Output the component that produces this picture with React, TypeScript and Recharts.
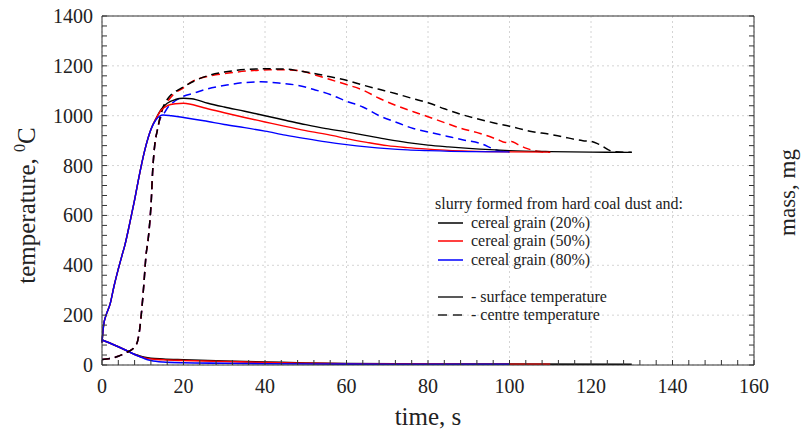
import { LineChart, Line, XAxis, YAxis, CartesianGrid, ReferenceLine } from "recharts";

type Pt = { t: number; v: number };
const pts = (rows: number[][]): Pt[] => rows.map(([t, v]) => ({ t, v }));

// surface temperature, degC
const surface20 = pts([
  [0, 90], [0.4, 160], [1, 200], [2, 245], [3, 320], [4, 385], [5, 445], [5.6, 480],
  [6.8, 568], [8, 662], [9.25, 769], [10.5, 862], [12, 945], [13.3, 990], [14.5, 1025],
  [16, 1050], [18, 1065], [20, 1070], [22, 1068], [26, 1050], [30, 1035], [35, 1018],
  [40, 1000], [45, 982], [50, 964], [55, 948], [60, 935], [65, 920], [70, 905], [75, 892],
  [80, 882], [85, 875], [90, 869], [100, 860], [110, 856], [120, 854], [130, 853],
]);
const surface50 = pts([
  [0, 90], [0.4, 160], [1, 200], [2, 245], [3, 320], [4, 385], [5, 445], [5.6, 480],
  [6.8, 568], [8, 662], [9.25, 769], [10.5, 862], [12, 945], [13.3, 990], [14.5, 1022],
  [16, 1040], [18, 1048], [20, 1050], [25, 1032], [30, 1012], [35, 993], [40, 975],
  [45, 957], [50, 940], [56.7, 920], [60, 908], [65, 893], [70, 880], [75, 872], [80, 866],
  [85, 861], [90, 858], [100, 855], [110, 854],
]);
const surface80 = pts([
  [0, 90], [0.4, 160], [1, 200], [2, 245], [3, 320], [4, 385], [5, 445], [5.6, 480],
  [6.8, 568], [8, 662], [9.25, 769], [10.5, 862], [12, 945], [13.3, 985], [15, 1003],
  [17, 1000], [20, 993], [25, 980], [30, 965], [35, 952], [40, 938], [45, 922], [50, 908],
  [55, 895], [60, 884], [65, 875], [70, 868], [75, 863], [80, 860], [90, 856], [100, 855],
]);

// centre temperature, degC
const centre20 = pts([
  [0, 22], [2, 26], [4, 35], [6, 50], [8, 72], [8.8, 100], [9.3, 150], [9.8, 230],
  [10.3, 330], [10.8, 440], [11.3, 500], [11.7, 568], [12.1, 662], [12.4, 769], [12.9, 876],
  [13.6, 943], [14.2, 990], [15, 1035], [16, 1065], [17, 1085], [18.6, 1103], [20, 1116],
  [23, 1142], [26.5, 1163], [30, 1175], [35, 1185], [40, 1188], [45, 1187], [48, 1181],
  [52, 1170], [56, 1156], [60, 1142], [64, 1123], [68, 1106], [72, 1089], [76, 1070],
  [80, 1052], [84, 1028], [88, 1006], [92, 988], [96, 972], [100, 958], [105, 938],
  [110, 925], [113, 916], [116, 905], [118, 900], [120, 897], [122, 885], [125.5, 856],
  [130, 853],
]);
const centre50 = pts([
  [0, 22], [2, 26], [4, 35], [6, 50], [8, 72], [8.8, 100], [9.3, 150], [9.8, 230],
  [10.3, 330], [10.8, 440], [11.3, 500], [11.7, 568], [12.1, 662], [12.4, 769], [12.9, 876],
  [13.6, 943], [14.2, 990], [15, 1030], [16, 1055], [17.5, 1085], [20, 1112], [22, 1136],
  [26, 1158], [30.6, 1170], [36, 1180], [41, 1184], [45, 1184], [48.6, 1180], [52, 1165],
  [56, 1145], [60, 1125], [64, 1103], [68, 1070], [72, 1042], [76.4, 1016], [80, 996],
  [84.6, 969], [88, 950], [92.8, 929], [97, 905], [99, 893], [100.5, 897], [102, 885],
  [104, 870], [107.5, 856], [110, 853],
]);
const centre80 = pts([
  [0, 22], [2, 26], [4, 35], [6, 50], [8, 72], [8.8, 100], [9.3, 150], [9.8, 230],
  [10.3, 330], [10.8, 440], [11.3, 500], [11.7, 568], [12.1, 662], [12.4, 769], [12.9, 876],
  [13.6, 943], [14.2, 985], [15, 1003], [16, 1030], [18, 1060], [20, 1078], [22.4, 1090],
  [26, 1108], [30.6, 1123], [35, 1133], [39, 1136], [44, 1130], [48, 1122], [52, 1105],
  [56, 1085], [60, 1058], [64, 1035], [68, 1000], [72, 975], [76.4, 949], [80, 935],
  [84.6, 918], [88.7, 903], [92.8, 889], [96.9, 862], [100, 855],
]);

// sample mass, mg
const mass20 = pts([
  [0, 10], [3, 8], [6, 5.8], [8, 4.3], [9.3, 3.6], [10.5, 3.1], [12, 2.7], [15, 2.4],
  [20, 2.1], [30, 1.6], [40, 1.2], [50, 0.8], [60, 0.55], [80, 0.4], [100, 0.35], [130, 0.3],
]);
const mass50 = pts([
  [0, 10], [3, 8], [6, 5.8], [8, 4.2], [9.3, 3.4], [10.5, 2.8], [12, 2.4], [15, 2.1],
  [20, 1.8], [30, 1.4], [40, 1.0], [50, 0.7], [60, 0.5], [80, 0.35], [100, 0.3], [110, 0.3],
]);
const mass80 = pts([
  [0, 10], [3, 8], [6, 5.8], [8, 4.2], [9.3, 3.3], [10.5, 2.5], [12, 1.8], [15, 1.2],
  [20, 0.9], [30, 0.7], [40, 0.5], [60, 0.35], [80, 0.3], [100, 0.3],
]);

const tempMajor = [0, 200, 400, 600, 800, 1000, 1200, 1400];
const timeMajor = [0, 20, 40, 60, 80, 100, 120, 140, 160];
const massMajor = [0, 20, 40, 60, 80, 100, 120, 140];

const withMinor = (major: number[], step: number) =>
  major.flatMap((v, i) => (i === 0 ? [v] : [v - 4 * step, v - 3 * step, v - 2 * step, v - step, v]));
const tempTicks = withMinor(tempMajor, 40);
const timeTicks = withMinor(timeMajor, 4);
const massTicks = withMinor(massMajor, 4);

const legendRows = [
  { label: "cereal grain (20%)", color: "#000000", dash: "" },
  { label: "cereal grain (50%)", color: "#ff0000", dash: "" },
  { label: "cereal grain (80%)", color: "#0000ff", dash: "" },
  null,
  { label: "- surface temperature", color: "#222222", dash: "" },
  { label: "- centre temperature", color: "#222222", dash: "9 6" },
];

const SERIF = '"Liberation Serif", "Times New Roman", serif';
const AXIS = "#333";
const DASH = "8 5";

function LeftTick({ x, y, payload }: any) {
  return (
    <g>
      <line x1={x} y1={y} x2={x + 5} y2={y} stroke={AXIS} />
      {tempMajor.includes(payload.value) && (
        <text x={x - 9} y={y + 7} textAnchor="end" fontSize={20} fontFamily={SERIF} fill="#222">
          {payload.value}
        </text>
      )}
    </g>
  );
}

function RightTick({ x, y }: any) {
  return <line x1={x} y1={y} x2={x - 5} y2={y} stroke={AXIS} />;
}

function BottomTick({ x, y, payload }: any) {
  return (
    <g>
      <line x1={x} y1={y} x2={x} y2={y - 5} stroke={AXIS} />
      {timeMajor.includes(payload.value) && (
        <text x={x} y={y + 28} textAnchor="middle" fontSize={20} fontFamily={SERIF} fill="#222">
          {payload.value}
        </text>
      )}
    </g>
  );
}

function TempTitle({ viewBox }: any) {
  const cx = viewBox.x - 7;
  const cy = viewBox.y + viewBox.height / 2 + 15;
  return (
    <text
      x={cx}
      y={cy}
      transform={`rotate(-90 ${cx} ${cy})`}
      textAnchor="middle"
      fontSize={25}
      fontFamily={SERIF}
      fill="#222"
    >
      temperature,{" "}
      <tspan dy={-10} fontSize={16}>0</tspan>
      <tspan dy={10}>C</tspan>
    </text>
  );
}

function MassTitle({ viewBox }: any) {
  const cx = viewBox.x + 41;
  const cy = viewBox.y + viewBox.height / 2 + 2;
  return (
    <text
      x={cx}
      y={cy}
      transform={`rotate(-90 ${cx} ${cy})`}
      textAnchor="middle"
      fontSize={23}
      fontFamily={SERIF}
      fill="#222"
    >
      mass, mg
    </text>
  );
}

function TimeTitle({ viewBox }: any) {
  return (
    <text
      x={viewBox.x + viewBox.width / 2}
      y={viewBox.y + 60}
      textAnchor="middle"
      fontSize={25}
      fontFamily={SERIF}
      fill="#222"
    >
      time, s
    </text>
  );
}

export default function App() {
  return (
    <div style={{ position: "absolute", left: 0, top: 0, width: 801, height: 430, background: "#fff" }}>
      <LineChart width={801} height={430} margin={{ top: 16, right: 7, bottom: 35, left: 42 }}>
        <CartesianGrid
          yAxisId="temp"
          stroke="#d4d4d4"
          strokeDasharray="2 3"
          horizontalValues={tempMajor}
          verticalValues={timeMajor}
        />
        <XAxis
          dataKey="t"
          type="number"
          domain={[0, 160]}
          ticks={timeTicks}
          interval={0}
          tick={<BottomTick />}
          tickLine={false}
          tickSize={0}
          tickMargin={0}
          height={30}
          axisLine={{ stroke: AXIS }}
          label={<TimeTitle />}
        />
        <YAxis
          yAxisId="temp"
          type="number"
          domain={[0, 1400]}
          ticks={tempTicks}
          interval={0}
          tick={<LeftTick />}
          tickLine={false}
          tickSize={0}
          tickMargin={0}
          width={60}
          axisLine={{ stroke: AXIS }}
          label={<TempTitle />}
        />
        <YAxis
          yAxisId="mass"
          orientation="right"
          type="number"
          domain={[0, 140]}
          ticks={massTicks}
          interval={0}
          tick={<RightTick />}
          tickLine={false}
          tickSize={0}
          tickMargin={0}
          width={40}
          axisLine={{ stroke: AXIS }}
          label={<MassTitle />}
        />
        <ReferenceLine yAxisId="temp" y={1400} stroke={AXIS} />

        <Line yAxisId="mass" data={mass20} dataKey="v" type="monotone" stroke="#000000" strokeWidth={1.6} dot={false} isAnimationActive={false} />
        <Line yAxisId="mass" data={mass50} dataKey="v" type="monotone" stroke="#ff0000" strokeWidth={1.6} dot={false} isAnimationActive={false} />
        <Line yAxisId="mass" data={mass80} dataKey="v" type="monotone" stroke="#0000ff" strokeWidth={1.6} dot={false} isAnimationActive={false} />

        <Line yAxisId="temp" data={centre80} dataKey="v" type="monotone" stroke="#0000ff" strokeWidth={1.5} strokeDasharray={DASH} dot={false} isAnimationActive={false} />
        <Line yAxisId="temp" data={centre50} dataKey="v" type="monotone" stroke="#ff0000" strokeWidth={1.5} strokeDasharray={DASH} dot={false} isAnimationActive={false} />
        <Line yAxisId="temp" data={centre20} dataKey="v" type="monotone" stroke="#000000" strokeWidth={1.5} strokeDasharray={DASH} dot={false} isAnimationActive={false} />

        <Line yAxisId="temp" data={surface20} dataKey="v" type="monotone" stroke="#000000" strokeWidth={1.4} dot={false} isAnimationActive={false} />
        <Line yAxisId="temp" data={surface50} dataKey="v" type="monotone" stroke="#ff0000" strokeWidth={1.4} dot={false} isAnimationActive={false} />
        <Line yAxisId="temp" data={surface80} dataKey="v" type="monotone" stroke="#0000ff" strokeWidth={1.4} dot={false} isAnimationActive={false} />
      </LineChart>

      <div
        style={{
          position: "absolute",
          left: 435,
          top: 195,
          fontFamily: SERIF,
          fontSize: 16,
          lineHeight: "18.5px",
          color: "#222",
        }}
      >
        <div>slurry formed from hard coal dust and:</div>
        {legendRows.map((row, i) =>
          row ? (
            <div key={i} style={{ display: "flex", alignItems: "center", height: 18.5 }}>
              <svg width={36} height={18} style={{ display: "block" }}>
                <line x1={3} y1={9} x2={28} y2={9} stroke={row.color} strokeWidth={1.5} strokeDasharray={row.dash || undefined} />
              </svg>
              <span style={{ whiteSpace: "nowrap" }}>{row.label}</span>
            </div>
          ) : (
            <div key={i} style={{ height: 18.5 }} />
          )
        )}
      </div>
    </div>
  );
}
